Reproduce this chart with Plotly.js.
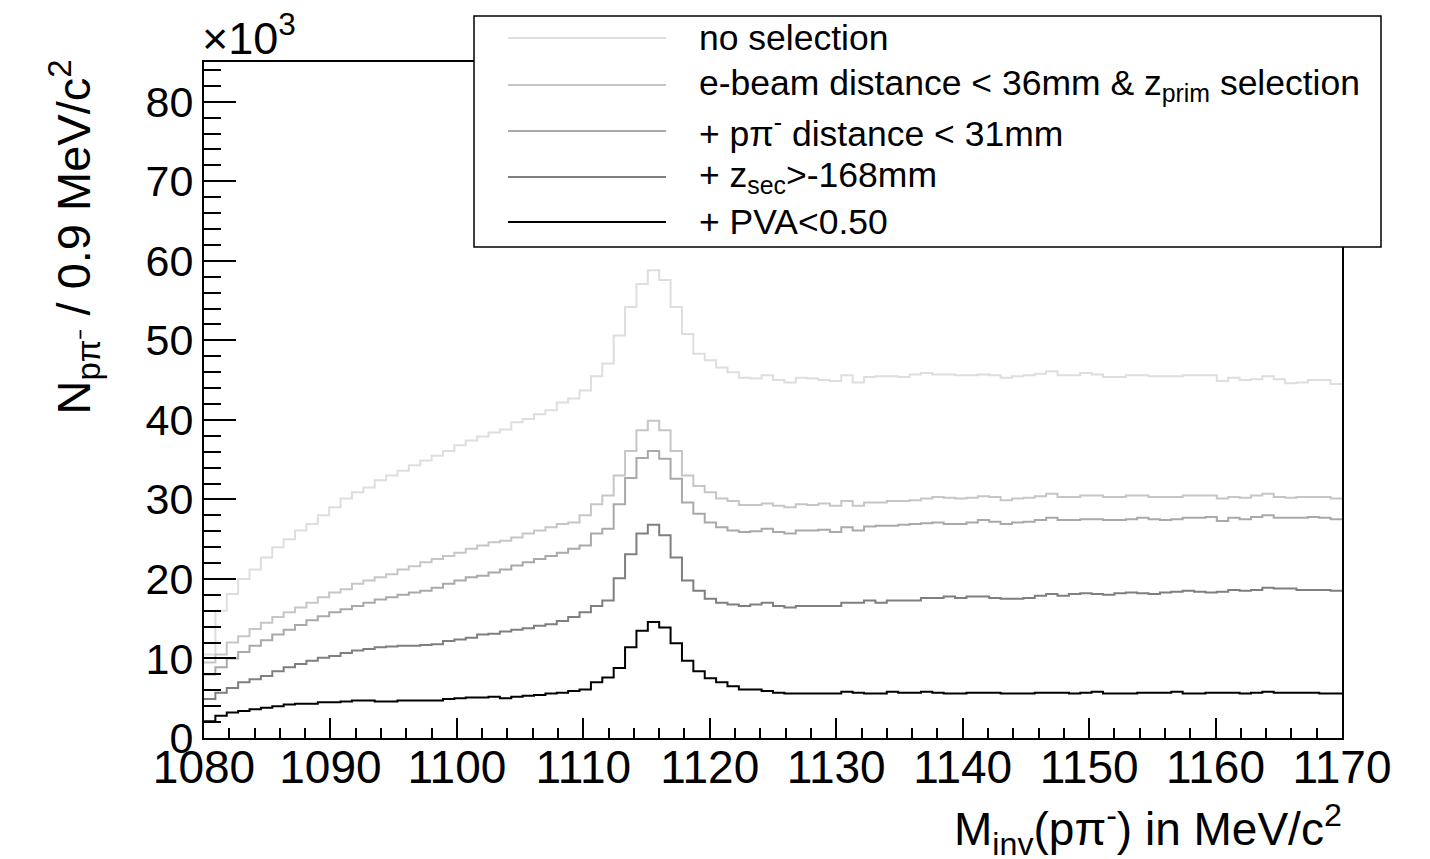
<!DOCTYPE html>
<html>
<head>
<meta charset="utf-8">
<script src="https://cdn.plot.ly/plotly-3.0.1.min.js"></script>
<style>html,body{margin:0;padding:0;background:#fff;}#chart{width:1430px;height:859px;}</style>
</head>
<body>
<div id="chart"></div>
<script>
// Histogram binning: 100 bins of 0.9 MeV/c^2 from 1080 to 1170
const xMin = 1080;
const binWidth = 0.9;
const nBins = 100;

// Series names (legend)
const seriesNames = [
  'no selection',
  'e-beam distance &lt; 36mm &amp; z<sub>prim</sub> selection',
  '+ pπ<sup>-</sup> distance &lt; 31mm',
  '+ z<sub>sec</sub>&gt;-168mm',
  '+ PVA&lt;0.50'
];

// Counts per bin in units of 10^3
const noSelection = [
  10.5, 16.0, 18.1, 20.0, 21.2, 22.7, 24.0, 25.0, 26.1, 26.9, 28.0, 29.0, 30.1, 30.9, 31.5, 32.4, 33.0, 33.6, 34.3, 34.9,
  35.5, 36.1, 36.8, 37.4, 37.9, 38.4, 38.8, 39.7, 40.1, 40.7, 41.2, 42.2, 42.7, 43.7, 45.5, 47.1,
  50.6, 54.2, 57.1, 58.8, 57.6, 54.2, 50.8, 48.3, 47.5, 46.6, 46.0, 45.3, 45.2,
  45.6, 45.0, 44.7, 45.3, 45.2, 45.0, 44.9, 45.6, 44.7, 45.4, 45.5, 45.5, 45.4, 45.7, 45.9, 45.7, 45.7, 45.6, 45.6, 45.7, 45.6, 45.3, 45.5, 45.6, 45.8,
  46.1, 45.6, 45.6, 45.9, 45.7, 45.4, 45.4, 45.6, 45.6, 45.5, 45.5, 45.5, 45.6, 45.6, 45.6, 44.9, 45.3, 45.0, 45.1, 45.5, 45.1, 44.6, 44.7, 45.0, 45.0, 44.5
];
const eBeamSel = [
  9.5, 10.5, 12.0, 12.8, 13.7, 14.5, 15.2, 15.8, 16.4, 17.0, 17.7, 18.3, 18.7, 19.4, 19.8, 20.2, 20.6, 21.2, 21.6, 22.1,
  22.5, 22.9, 23.3, 23.8, 24.2, 24.6, 24.8, 25.2, 25.7, 26.1, 26.5, 26.9, 27.1, 28.0, 29.4, 30.5,
  33.0, 36.1, 38.7, 39.9, 38.7, 36.1, 33.0, 31.7, 30.9, 30.1, 29.8, 29.3, 29.3,
  29.5, 29.2, 29.0, 29.4, 29.3, 29.5, 29.2, 29.8, 29.2, 29.6, 29.6, 29.8, 29.8, 29.9, 30.1, 30.3, 30.2, 30.1, 30.2, 30.4, 30.3, 29.9, 30.1, 30.2, 30.4,
  30.7, 30.3, 30.3, 30.5, 30.5, 30.3, 30.3, 30.5, 30.5, 30.3, 30.3, 30.3, 30.5, 30.5, 30.5, 30.1, 30.3, 30.2, 30.5, 30.7, 30.3, 30.2, 30.3, 30.3, 30.3, 30.1
];
const pPiDistSel = [
  8.0, 8.9, 10.0, 10.8, 11.6, 12.3, 13.0, 13.6, 14.2, 14.8, 15.3, 15.8, 16.2, 16.6, 17.0, 17.4, 17.7, 18.0, 18.3, 18.5,
  18.9, 19.4, 19.8, 20.2, 20.4, 20.8, 21.2, 21.7, 22.1, 22.5, 22.9, 23.3, 23.8, 24.2, 25.7, 26.3,
  29.4, 32.7, 35.2, 36.1, 35.1, 32.6, 29.6, 28.2, 27.1, 26.5, 26.1, 25.9, 26.0,
  26.3, 25.9, 25.7, 26.1, 26.1, 26.2, 25.9, 26.5, 26.1, 26.6, 26.7, 26.7, 26.8, 26.9, 27.0, 27.1, 26.9, 26.9, 27.1, 27.4, 27.2, 26.9, 27.1, 27.2, 27.4,
  27.7, 27.4, 27.4, 27.5, 27.5, 27.4, 27.4, 27.5, 27.7, 27.5, 27.4, 27.5, 27.7, 27.7, 27.8, 27.3, 27.7, 27.5, 27.8, 28.0, 27.7, 27.7, 27.7, 27.8, 27.7, 27.5
];
const zSecSel = [
  4.9, 5.7, 6.3, 7.0, 7.4, 7.8, 8.4, 8.9, 9.3, 9.7, 10.1, 10.3, 10.7, 11.0, 11.2, 11.4, 11.5, 11.6, 11.6, 11.7,
  11.8, 12.2, 12.4, 12.6, 13.0, 13.1, 13.4, 13.6, 13.8, 14.1, 14.3, 14.7, 15.2, 15.8, 16.6, 17.3,
  20.1, 23.1, 25.7, 26.8, 25.5, 22.7, 19.8, 18.5, 17.5, 17.0, 16.8, 16.6, 16.8,
  17.0, 16.6, 16.4, 16.6, 16.6, 16.6, 16.6, 17.0, 17.0, 17.3, 17.0, 17.3, 17.3, 17.3, 17.6, 17.6, 17.8, 17.6, 17.8, 17.8, 17.6, 17.5, 17.5, 17.6, 17.9,
  18.1, 17.9, 18.1, 18.2, 18.1, 18.0, 18.2, 18.3, 18.2, 18.1, 18.3, 18.4, 18.5, 18.4, 18.3, 18.4, 18.6, 18.5, 18.6, 18.9, 18.8, 18.8, 18.6, 18.6, 18.6, 18.5
];
const pvaSel = [
  2.1, 2.8, 3.2, 3.4, 3.6, 3.8, 4.0, 4.2, 4.3, 4.3, 4.5, 4.5, 4.6, 4.7, 4.7, 4.6, 4.6, 4.7, 4.7, 4.7,
  4.7, 4.9, 5.0, 5.1, 5.1, 5.2, 5.0, 5.2, 5.3, 5.4, 5.6, 5.7, 5.9, 6.1, 7.0, 7.6,
  8.8, 11.4, 13.5, 14.6, 13.9, 11.9, 9.7, 8.4, 7.5, 7.0, 6.5, 6.1, 6.1,
  5.9, 5.7, 5.6, 5.6, 5.6, 5.6, 5.6, 5.8, 5.7, 5.6, 5.6, 5.8, 5.7, 5.7, 5.8, 5.7, 5.6, 5.6, 5.7, 5.7, 5.7, 5.6, 5.6, 5.6, 5.7,
  5.7, 5.7, 5.6, 5.7, 5.8, 5.6, 5.6, 5.6, 5.7, 5.7, 5.7, 5.8, 5.6, 5.6, 5.7, 5.7, 5.7, 5.6, 5.7, 5.8, 5.7, 5.7, 5.7, 5.7, 5.6, 5.6
];

const seriesValues = [noSelection, eBeamSel, pPiDistSel, zSecSel, pvaSel];
const seriesColors = ['#dedede', '#c6c6c6', '#a9a9a9', '#7f7f7f', '#000000'];

const FONT = 'Liberation Sans, Arial, Helvetica, sans-serif';
const binEdges = Array.from({length: nBins + 1}, (_, i) => +(xMin + i * binWidth).toFixed(2));

const traces = seriesValues.map((vals, k) => ({
  type: 'scatter',
  mode: 'lines',
  x: binEdges,
  y: vals.concat([vals[vals.length - 1]]),
  line: {shape: 'hv', color: seriesColors[k], width: 2},
  name: seriesNames[k],
  showlegend: false,
  hoverinfo: 'x+y'
}));

// pixel -> paper helpers (plot area 204..1342 x 62..738)
const L = 204, R = 1342, T = 62, B = 738;
const px = x => (x - L) / (R - L);
const py = y => (B - y) / (B - T);

const shapes = [
  {type: 'rect', xref: 'paper', yref: 'paper', x0: px(474), x1: px(1381), y0: py(16), y1: py(247),
   line: {color: '#000', width: 1.5}, fillcolor: '#fff', layer: 'above'}
];
const rowY = [38, 85, 131, 177, 222];
const annotations = [];
seriesNames.forEach((nm, k) => {
  shapes.push({type: 'line', xref: 'paper', yref: 'paper', x0: px(508), x1: px(666), y0: py(rowY[k]), y1: py(rowY[k]),
    line: {color: seriesColors[k], width: 2}, layer: 'above'});
  annotations.push({xref: 'paper', yref: 'paper', x: px(697), y: py(rowY[k]), xanchor: 'left', yanchor: 'middle',
    text: nm, showarrow: false, font: {family: FONT, size: 35.5, color: '#000'}});
});
annotations.push({xref: 'paper', yref: 'paper', x: px(200), y: py(66), xanchor: 'left', yanchor: 'bottom',
  text: '×10<sup>3</sup>', showarrow: false, font: {family: FONT, size: 45, color: '#000'}});
annotations.push({xref: 'paper', yref: 'paper', x: px(1344), y: py(829), xanchor: 'right', yanchor: 'middle',
  text: 'M<sub>inv</sub>(pπ<sup>-</sup>) in MeV/c<sup>2</sup>', showarrow: false, font: {family: FONT, size: 46, color: '#000'}});
annotations.push({xref: 'paper', yref: 'paper', x: px(74), y: py(58), xanchor: 'center', yanchor: 'top', textangle: -90,
  text: 'N<sub>pπ⁻</sub> / 0.9 MeV/c<sup>2</sup>', showarrow: false, font: {family: FONT, size: 47, color: '#000'}});

const layout = {
  width: 1430, height: 859,
  margin: {l: L, r: 1430 - R, t: T, b: 859 - B, pad: 0},
  paper_bgcolor: '#fff', plot_bgcolor: '#fff',
  showlegend: false,
  font: {family: FONT, color: '#000'},
  xaxis: {
    range: [1080, 1170], tick0: 1080, dtick: 10, ticks: 'inside', ticklen: 20, tickwidth: 2, tickcolor: '#000',
    showline: true, linewidth: 2, linecolor: '#000', mirror: true, showgrid: false, zeroline: false,
    ticklabelstandoff: -12,
    tickfont: {family: FONT, size: 46, color: '#000'},
    minor: {dtick: 2, ticks: 'inside', ticklen: 10, tickwidth: 2, tickcolor: '#000', showgrid: false}
  },
  yaxis: {
    range: [0, 85], tick0: 0, dtick: 10, ticks: 'inside', ticklen: 32, tickwidth: 2, tickcolor: '#000',
    showline: true, linewidth: 2, linecolor: '#000', mirror: true, showgrid: false, zeroline: false,
    tickfont: {family: FONT, size: 43, color: '#000'},
    minor: {dtick: 2, ticks: 'inside', ticklen: 17, tickwidth: 2, tickcolor: '#000', showgrid: false}
  },
  shapes: shapes,
  annotations: annotations
};

Plotly.newPlot('chart', traces, layout, {displayModeBar: false, staticPlot: true});
</script>
</body>
</html>
